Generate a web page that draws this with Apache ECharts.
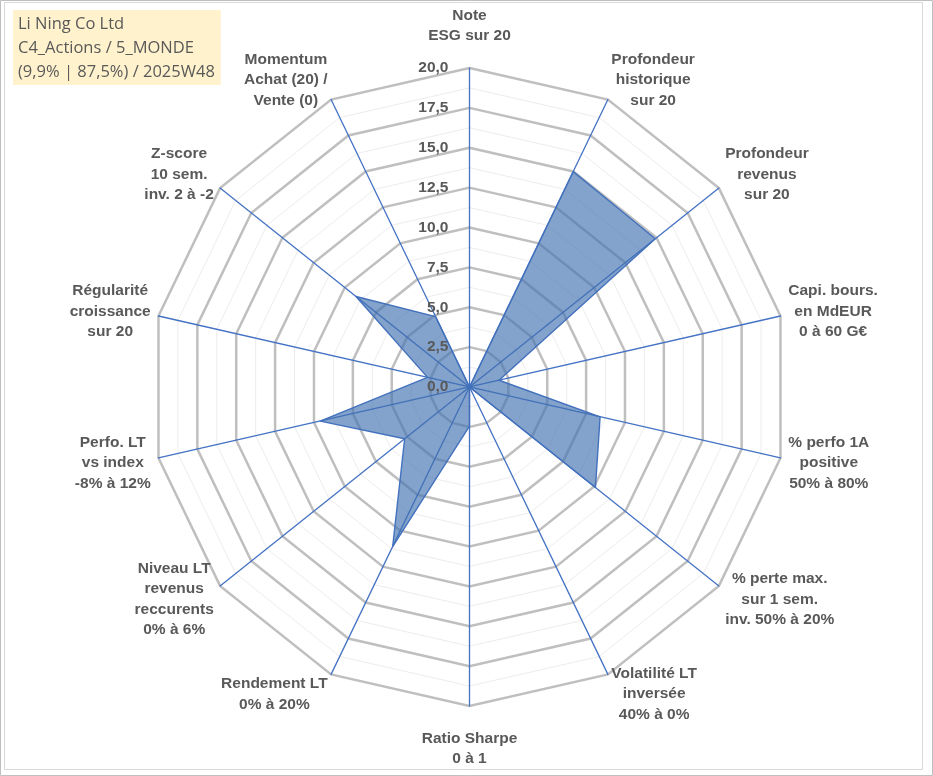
<!DOCTYPE html>
<html>
<head>
<meta charset="utf-8">
<script src="https://cdn.jsdelivr.net/npm/echarts@6/dist/echarts.min.js"></script>
<style>
  html, body { margin: 0; padding: 0; background: #ffffff; }
  #chart { width: 933px; height: 776px; }
</style>
</head>
<body>
<div id="chart"></div>
<script>
// Categories in clockwise order starting at the top
var categories = [
  "Note\nESG sur 20",
  "Profondeur\nhistorique\nsur 20",
  "Profondeur\nrevenus\nsur 20",
  "Capi. bours.\nen MdEUR\n0 à 60 G€",
  "% perfo 1A\npositive\n50% à 80%",
  "% perte max.\nsur 1 sem.\ninv. 50% à 20%",
  "Volatilité LT\ninversée\n40% à 0%",
  "Ratio Sharpe\n0 à 1",
  "Rendement LT\n0% à 20%",
  "Niveau LT\nrevenus\nreccurents\n0% à 6%",
  "Perfo. LT\nvs index\n-8% à 12%",
  "Régularité\ncroissance\nsur 20",
  "Z-score\n10 sem.\ninv. 2 à -2",
  "Momentum\nAchat (20) /\nVente (0)"
];
var values = [0, 15.0, 14.9, 1.9, 8.4, 10.1, 0, 2.45, 11.1, 5.2, 9.6, 2.7, 9.1, 4.9];
var tickValues = [0, 2.5, 5, 7.5, 10, 12.5, 15, 17.5, 20];
var tickLabels = ["0,0", "2,5", "5,0", "7,5", "10,0", "12,5", "15,0", "17,5", "20,0"];
var titleLines = ["Li Ning Co Ltd", "C4_Actions / 5_MONDE", "(9,9% | 87,5%) / 2025W48"];
var axisMax = 20;

// ECharts lays radar indicators counter-clockwise: reorder to keep clockwise reading
function toCCW(arr) { return [arr[0]].concat(arr.slice(1).reverse()); }
var indicator = toCCW(categories).map(function (n) { return { name: n, min: 0, max: axisMax }; });
var seriesValues = toCCW(values);

var CENTER = ['50.32%', '49.87%'];
var RADIUS = 319;
var labelColor = '#595959';
var LABEL_FONT = 'Liberation Sans, Arial, sans-serif';

// Excel-like label placement: vertical offset depending on axis direction
var N = categories.length;
function labelShift(k) {            // k: clockwise index
  var th = k * 2 * Math.PI / N;
  var s = -14 * Math.cos(th);       // negative: move up
  if (k * 2 === N) s = 14;
  return s;
}
var rich = {
  c: { align: 'center', fontFamily: LABEL_FONT, fontWeight: 'bold', fontSize: 15.5,
       color: labelColor, lineHeight: 20.5 }
};
var nameFmt = function (name) {
  var k = categories.indexOf(name);
  var th = k * 2 * Math.PI / N;
  var s = labelShift(k);
  var vertical = Math.abs(Math.sin(th)) < 1e-6;
  var h = Math.round(Math.abs(s) * (vertical ? 1 : 2));
  var key = 'sp' + h;
  if (!rich[key]) rich[key] = { fontSize: 1, lineHeight: h, color: 'rgba(0,0,0,0)' };
  var body = name.split('\n').map(function (l) { return '{c|' + l + '}'; }).join('\n');
  if (h === 0) return body;
  return s < 0 ? body + '\n{' + key + '| }' : '{' + key + '| }\n' + body;
};
// pre-build spacer styles
categories.forEach(function (n) { nameFmt(n); });

var chart = echarts.init(document.getElementById('chart'), null, { renderer: 'canvas' });
chart.setOption({
  animation: false,
  backgroundColor: '#ffffff',
  title: {
    text: titleLines.join('\n'),
    left: 13, top: 10,
    backgroundColor: '#fff2cc',
    padding: [2, 6, 1, 5],
    textStyle: {
      fontFamily: 'Open Sans', fontWeight: 'normal', fontSize: 16.5,
      color: '#595959', lineHeight: 24
    }
  },
  graphic: [
    { type: 'rect', silent: true, z: -1,
      shape: { x: 4.5, y: 2.5, width: 918, height: 767 },
      style: { fill: null, stroke: '#d9d9d9', lineWidth: 1 } },
    { type: 'rect', silent: true, z: -1,
      shape: { x: 0.5, y: 0.5, width: 932, height: 775 },
      style: { fill: null, stroke: '#bfbfbf', lineWidth: 1 } }
  ],
  radar: [
    {
      indicator: indicator, center: CENTER, radius: RADIUS, startAngle: 90,
      shape: 'polygon', splitNumber: 16, z: 1,
      axisName: { show: false },
      axisLine: { show: false },
      axisTick: { show: false },
      splitArea: { show: false },
      splitLine: { lineStyle: { color: '#ededed', width: 1 } }
    },
    {
      indicator: indicator, center: CENTER, radius: RADIUS, startAngle: 90,
      shape: 'polygon', splitNumber: 8, z: 2,
      nameGap: 8,
      axisName: { formatter: nameFmt, rich: rich },
      axisLine: { lineStyle: { color: '#4472c4', width: 1.3 } },
      splitArea: { show: false },
      splitLine: { lineStyle: { color: '#bfbfbf', width: 2.5 } }
    }
  ],
  polar: { center: CENTER, radius: RADIUS },
  angleAxis: { show: false, startAngle: 90, min: 0, max: 360 },
  radiusAxis: {
    min: 0, max: axisMax, interval: 2.5, z: 10,
    axisLine: { show: false }, axisTick: { show: false }, splitLine: { show: false },
    axisLabel: {
      show: true, margin: 21,
      fontFamily: LABEL_FONT, fontWeight: 'bold', fontSize: 15.5,
      color: labelColor,
      formatter: function (v) {
        var i = tickValues.indexOf(v);
        return i >= 0 ? tickLabels[i] : '';
      }
    }
  },
  series: [
    {
      type: 'radar', radarIndex: 1, z: 5,
      symbol: 'none',
      lineStyle: { color: '#4472c4', width: 1.4 },
      areaStyle: { color: '#4070b0', opacity: 0.65 },
      data: [{ value: seriesValues, name: 'Li Ning Co Ltd' }]
    }
  ]
});
</script>
</body>
</html>
